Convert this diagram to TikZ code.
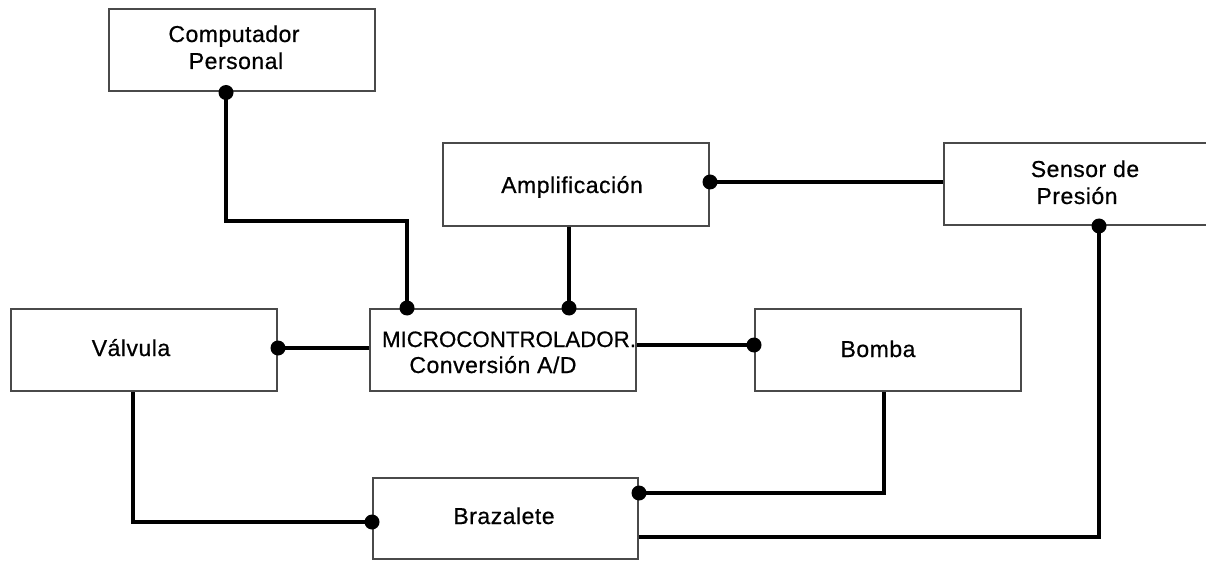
\documentclass[tikz,border=0pt]{standalone}
\usepackage{fontspec}
\setmainfont{Liberation Sans}
\newfontfamily\lowfont[LetterSpace=2.2,FakeBold=0.6]{Liberation Sans}
\newfontfamily\capfont[FakeBold=0.6]{Liberation Sans}
\definecolor{boxgray}{HTML}{4A4A4A}
\begin{document}
\begin{tikzpicture}[x=1pt,y=-1pt,
  box/.style={draw=boxgray, line width=2pt, minimum width=266pt, minimum height=82pt, inner sep=0pt},
  txt/.style={font=\lowfont\fontsize{23}{27}\selectfont, anchor=base, inner sep=0pt},
  captxt/.style={font=\capfont\fontsize{22.3}{27}\selectfont, anchor=base, inner sep=0pt},
  conn/.style={draw=black, line width=3.2pt},
  dotn/.style={circle, fill=black, inner sep=0pt, minimum size=15pt}]
\useasboundingbox (0,0) rectangle (1206,561);
% boxes
\node[box] (pc) at (241.5,50.5) {};
\node[box, minimum height=83pt] (amp) at (576,184.5) {};
\node[box, minimum width=268pt] (sen) at (1078,184) {};
\node[box] (val) at (144,350) {};
\node[box] (mic) at (503,350) {};
\node[box] (bom) at (888,350) {};
\node[box, minimum width=265pt, minimum height=81pt] (bra) at (505.5,518.5) {};
% texts
\node[txt] (pc1) at (234,42) {Computador};
\node[txt] (pc2) at (236,69) {Personal};
\node[txt] (amp1) at (572,193) {Amplificación};
\node[txt] (sen1) at (1085,177) {Sensor de};
\node[txt] (sen2) at (1077,204) {Presión};
\node[txt] (val1) at (131,356) {Válvula};
\node[captxt] (mic1) at (509,347) {MICROCONTROLADOR.};
\node[txt] (mic2) at (493,373) {Conversión A/D};
\node[txt] (bom1) at (878,357) {Bomba};
\node[txt] (bra1) at (504,524) {Brazalete};
% connection points
\coordinate (h1) at (0,221);
\coordinate (a1) at ([xshift=-15.5pt]pc.south);
\coordinate (b1) at ([xshift=-96pt]mic.north);
\coordinate (a2) at ([xshift=-7pt]amp.south);
\coordinate (a3) at ([yshift=2.5pt]amp.east);
\coordinate (a4) at ([yshift=2pt]val.east);
\coordinate (a5) at ([yshift=5pt]mic.east);
\coordinate (a6) at ([xshift=-11pt]val.south);
\coordinate (b6) at ([yshift=-3.5pt]bra.west);
\coordinate (a7) at ([xshift=-4pt]bom.south);
\coordinate (b7) at ([yshift=25.5pt]bra.east);
\coordinate (a8) at ([xshift=21pt]sen.south);
\coordinate (b8) at ([yshift=-18.5pt]bra.east);
% connectors
\draw[conn] (a1) -- (a1 |- h1) -| (b1);
\draw[conn] (a2) -- (a2 |- mic.north);
\draw[conn] (a3) -- (a3 -| sen.west);
\draw[conn] (a4) -- (a4 -| mic.west);
\draw[conn] (a5) -- (a5 -| bom.west);
\draw[conn] (a6) |- (b6);
\draw[conn] (a7) |- (b7);
\draw[conn] (a8) |- (b8);
% dots
\node[dotn] (d1) at (a1) {};
\node[dotn] (d2) at (b1) {};
\node[dotn] (d3) at (a2 |- mic.north) {};
\node[dotn] (d4) at (a3) {};
\node[dotn] (d5) at (a4) {};
\node[dotn] (d6) at (a5 -| bom.west) {};
\node[dotn] (d7) at (b6) {};
\node[dotn] (d8) at (b7) {};
\node[dotn] (d9) at (a8) {};
\end{tikzpicture}
\end{document}
